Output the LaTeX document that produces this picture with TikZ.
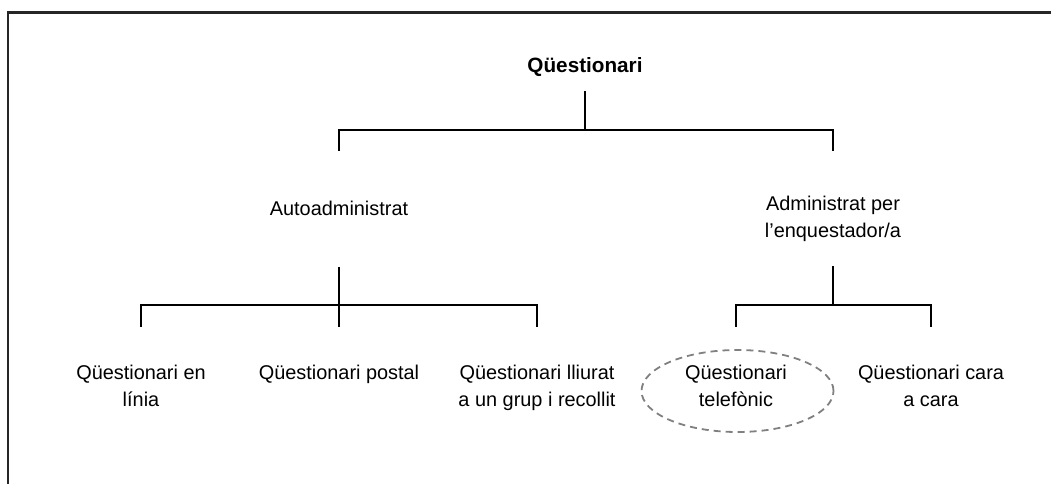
\documentclass[tikz,border=0pt]{standalone}
\usepackage{fontspec}
\setmainfont{Liberation Sans}
\usetikzlibrary{shapes.geometric}
\begin{document}
\begin{tikzpicture}[x=1pt,y=-1pt,
  label/.style={inner sep=0pt, align=center, font=\fontsize{19.9}{27.5}\selectfont},
  title/.style={inner sep=0pt, font=\fontsize{20.7}{24}\selectfont\bfseries},
  tree/.style={line width=2.5pt, line cap=rect},
  ring/.style={ellipse, draw=black!50, line width=1.8pt, dash pattern=on 7pt off 5pt,
    minimum width=192pt, minimum height=82pt, inner sep=0pt},
  frame/.style={line width=2.2pt, black!85}]
\useasboundingbox (0,0) rectangle (1051,484);
% frame edges (left and top)
\draw[frame] (8,490) -- (8,12.5) -- (1060,12.5);

% nodes
\node[title, anchor=base] (root) at (585,73) {Qüestionari};
\node[label, anchor=base] (auto) at (339,215) {Autoadministrat};
\node[label, anchor=north] (admin) at (833,195.5) {Administrat per\\l’enquestador/a};

\node[label, anchor=north] (online) at (141,364.5) {Qüestionari en\\línia};
\node[label, anchor=north] (postal) at (339,364.5) {Qüestionari postal};
\node[label, anchor=north] (group) at (537,364.5) {Qüestionari lliurat\\a un grup i recollit};
\node[label, anchor=north] (phone) at (736,364.5) {Qüestionari\\telefònic};
\node[label, anchor=north] (face) at (931,364.5) {Qüestionari cara\\a cara};
\node[ring] (ringphone) at (737.5,391) {};

% junction levels
\coordinate (bar1) at (585,130);
\coordinate (bar2) at (339,305);
\coordinate (bar3) at (833,305);

% first level
\draw[tree] (root |- 0,92) -- (bar1);
\draw[tree] (auto |- bar1) -- (admin |- bar1);
\draw[tree] (auto |- bar1) -- ++(0,20);
\draw[tree] (admin |- bar1) -- ++(0,20);

% self-administered branch
\draw[tree] (auto |- 0,268) -- (bar2);
\draw[tree] (online |- bar2) -- (group |- bar2);
\draw[tree] (online |- bar2) -- ++(0,21);
\draw[tree] (postal |- bar2) -- ++(0,21);
\draw[tree] (group |- bar2) -- ++(0,21);

% interviewer branch
\draw[tree] (admin |- 0,267) -- (bar3);
\draw[tree] (phone |- bar3) -- (face |- bar3);
\draw[tree] (phone |- bar3) -- ++(0,21);
\draw[tree] (face |- bar3) -- ++(0,21);
\end{tikzpicture}
\end{document}
